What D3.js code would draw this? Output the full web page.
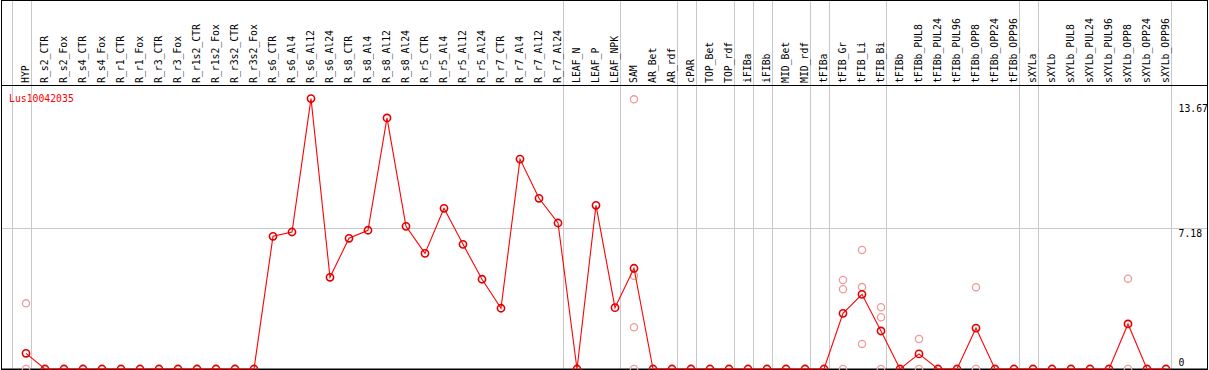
<!DOCTYPE html>
<html>
<head>
<meta charset="utf-8">
<script src="https://cdn.jsdelivr.net/npm/d3@7"></script>
<style>
  html, body { margin: 0; padding: 0; background: #fff; }
  svg { display: block; }
  text { font-family: "DejaVu Sans Mono", "Liberation Mono", monospace; }
</style>
</head>
<body>
<svg id="chart" width="1209" height="370"></svg>
<script>
const geneName = "Lus10042035";

const categories = [
  "HYP", "R_s2_CTR", "R_s2_Fox", "R_s4_CTR", "R_s4_Fox", "R_r1_CTR", "R_r1_Fox",
  "R_r3_CTR", "R_r3_Fox", "R_r1s2_CTR", "R_r1s2_Fox", "R_r3s2_CTR", "R_r3s2_Fox",
  "R_s6_CTR", "R_s6_Al4", "R_s6_Al12", "R_s6_Al24", "R_s8_CTR", "R_s8_Al4", "R_s8_Al12",
  "R_s8_Al24", "R_r5_CTR", "R_r5_Al4", "R_r5_Al12", "R_r5_Al24", "R_r7_CTR", "R_r7_Al4",
  "R_r7_Al12", "R_r7_Al24", "LEAF_N", "LEAF_P", "LEAF_NPK", "SAM", "AR_Bet", "AR_rdf",
  "cPAR", "TOP_Bet", "TOP_rdf", "iFIBa", "iFIBb", "MID_Bet", "MID_rdf", "tFIBa",
  "tFIB_Gr", "tFIB_Li", "tFIB_Bi", "tFIBb", "tFIBb_PUL8", "tFIBb_PUL24", "tFIBb_PUL96",
  "tFIBb_OPP8", "tFIBb_OPP24", "tFIBb_OPP96", "sXYLa", "sXYLb", "sXYLb_PUL8",
  "sXYLb_PUL24", "sXYLb_PUL96", "sXYLb_OPP8", "sXYLb_OPP24", "sXYLb_OPP96"
];

const meanValues = [
  0.80, 0, 0, 0, 0, 0, 0,
  0, 0, 0, 0, 0, 0,
  6.77, 6.99, 13.80, 4.68, 6.67, 7.08, 12.81,
  7.28, 5.90, 8.20, 6.36, 4.58, 3.10, 10.71,
  8.71, 7.45, 0, 8.35, 3.13, 5.14, 0, 0,
  0, 0, 0, 0, 0, 0, 0, 0,
  2.84, 3.81, 1.94, 0, 0.77, 0, 0,
  2.09, 0, 0, 0, 0, 0,
  0, 0, 2.30, 0, 0
];

// individual replicate measurements (light circles)
const replicateCategories = ["HYP", "SAM", "tFIB_Gr", "tFIB_Li", "tFIB_Bi", "tFIBb_PUL8", "tFIBb_OPP8", "sXYLb_OPP8"];
const replicateValues = [
  [3.35, 0],
  [13.76, 4.76, 2.13, 0],
  [4.54, 4.07, 0],
  [6.07, 4.18, 1.28],
  [3.15, 2.64, 0],
  [1.53, 0],
  [4.17, 0],
  [4.61, 0]
];

// last category of each sample group (vertical separators)
const groupEnds = ["HYP", "R_r7_Al24", "LEAF_NPK", "AR_rdf", "cPAR", "TOP_rdf", "iFIBa",
  "iFIBb", "MID_rdf", "tFIBa", "tFIB_Bi", "tFIBb_OPP96", "sXYLa", "sXYLb_OPP96"];

const yTickValues = [13.67, 7.18, 0];
const yTickLabels = ["13.67", "7.18", "0"];
const yMax = 13.67;

const W = 1209, H = 370;
const headerY = 85.5, baseY = 369;
const svg = d3.select("#chart");

const x = d3.scalePoint().domain(categories).range([26, 1166]);
const step = x.step();
const y = d3.scaleLinear().domain([0, yMax]).range([baseY, 101.1]);

const grid = "#c8c8c8";

// horizontal mid gridline
svg.append("line")
  .attr("x1", 1).attr("x2", 1208)
  .attr("y1", Math.round(y(yTickValues[1])) + 0.5).attr("y2", Math.round(y(yTickValues[1])) + 0.5)
  .attr("stroke", grid).attr("stroke-width", 1);

// vertical group separators
const sepX = [x(categories[0]) - step + step / 4].concat(groupEnds.map(c => x(c) + step / 4));
svg.selectAll("line.sep").data(sepX).enter().append("line")
  .attr("class", "sep")
  .attr("x1", d => Math.round(d) + 0.5).attr("x2", d => Math.round(d) + 0.5)
  .attr("y1", 0).attr("y2", baseY)
  .attr("stroke", grid).attr("stroke-width", 1);

// frame
svg.append("rect").attr("x", 1.5).attr("y", 0.5).attr("width", 1206).attr("height", baseY - 0.5)
  .attr("fill", "none").attr("stroke", "#000").attr("stroke-width", 1);
svg.append("line").attr("x1", 1).attr("x2", 1208).attr("y1", headerY).attr("y2", headerY)
  .attr("stroke", "#000").attr("stroke-width", 1);
svg.append("line").attr("x1", 1).attr("x2", 1208).attr("y1", baseY + 0.5).attr("y2", baseY + 0.5)
  .attr("stroke", "#000").attr("stroke-width", 1);

// column labels
svg.selectAll("text.col").data(categories).enter().append("text")
  .attr("class", "col")
  .attr("transform", d => `translate(${x(d) + 3.3},83) rotate(-90) scale(0.89,1)`)
  .attr("font-size", 11)
  .attr("fill", "#000")
  .text(d => d);

// gene name
svg.append("text")
  .attr("transform", "translate(9,101.5) scale(0.89,1)")
  .attr("font-size", 11).attr("fill", "#ff0000")
  .text(geneName);

// y-axis labels
const yLabelBase = [112, 237, 366];
svg.selectAll("text.ytick").data(yTickLabels).enter().append("text")
  .attr("class", "ytick")
  .attr("transform", (d, i) => `translate(1178.5,${yLabelBase[i]}) scale(0.89,1)`)
  .attr("font-size", 11).attr("fill", "#000")
  .text(d => d);

// replicate points
const reps = [];
replicateCategories.forEach((c, i) => replicateValues[i].forEach(v => reps.push({ c, v })));
svg.selectAll("circle.rep").data(reps).enter().append("circle")
  .attr("class", "rep")
  .attr("cx", d => x(d.c)).attr("cy", d => y(d.v)).attr("r", 3.6)
  .attr("fill", "none").attr("stroke", "#ef9a9a").attr("stroke-width", 1.3);

// mean line
const pts = categories.map((c, i) => ({ c, v: meanValues[i] }));
svg.append("path")
  .datum(pts)
  .attr("d", d3.line().x(d => x(d.c)).y(d => y(d.v)))
  .attr("fill", "none").attr("stroke", "#ff0000").attr("stroke-width", 1.1);

svg.selectAll("circle.mean").data(pts).enter().append("circle")
  .attr("class", "mean")
  .attr("cx", d => x(d.c)).attr("cy", d => y(d.v)).attr("r", 3.6)
  .attr("fill", "none").attr("stroke", "#e00000").attr("stroke-width", 1.6);
</script>
</body>
</html>
